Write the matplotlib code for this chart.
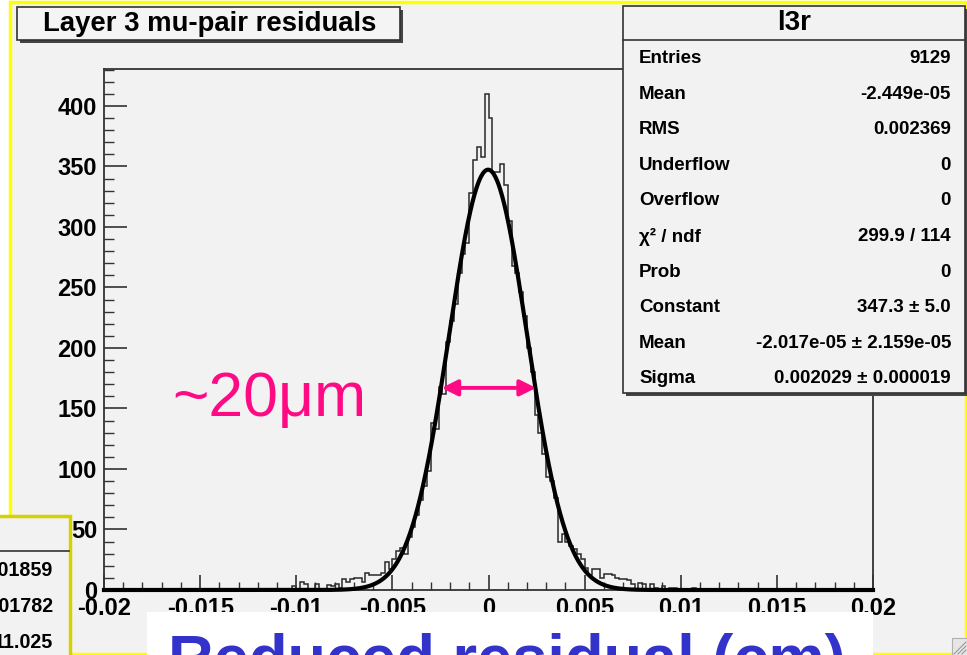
import matplotlib.pyplot as plt
from matplotlib.patches import Rectangle
from matplotlib.ticker import MultipleLocator
import numpy as np

plt.rcParams['font.family'] = ['Liberation Sans', 'DejaVu Sans']

W, H = 967, 655

# histogram: 200 bins over [-0.02, 0.02]; counts listed from bin 48 onwards, rest are empty
x_min, x_max, n_bins = -0.02, 0.02, 200
first_bin = 48
counts_listed = [
    1, 3, 0, 7, 5, 0, 1, 5, 1, 0,
    4, 3, 5, 2, 9, 7, 9, 10, 10, 7,
    14, 12, 12, 12, 14, 23, 17, 26, 32, 35,
    30, 44, 52, 62, 74, 86, 98, 138, 133, 168,
    162, 205, 222, 236, 262, 278, 287, 328, 355, 366,
    358, 410, 390, 345, 345, 352, 335, 305, 268, 262,
    246, 226, 200, 180, 145, 130, 112, 93, 90, 76,
    40, 46, 40, 36, 34, 30, 26, 18, 12, 17,
    17, 10, 13, 13, 12, 10, 9, 9, 8, 5,
    1, 6, 5, 1, 5, 2, 1, 3, 0, 2,
    2, 0, 1, 0, 1, 2, 0, 1, 0, 0, 1,
]

# gaussian fit parameters (from the stats box)
fit_const = 347.3
fit_mean = -2.017e-05
fit_sigma = 0.002029

x_ticks = [-0.02, -0.015, -0.01, -0.005, 0, 0.005, 0.01, 0.015, 0.02]
x_tick_labels = ['-0.02', '-0.015', '-0.01', '-0.005', '0', '0.005', '0.01', '0.015', '0.02']
y_ticks = [0, 50, 100, 150, 200, 250, 300, 350, 400]

title = 'Layer 3 mu-pair residuals'
stats_name = 'l3r'
stat_labels = ['Entries', 'Mean', 'RMS', 'Underflow', 'Overflow', 'χ² / ndf',
               'Prob', 'Constant', 'Mean', 'Sigma']
stat_values = ['9129', '-2.449e-05', '0.002369', '0', '0', '299.9 / 114',
               '0', '347.3 ± 5.0', '-2.017e-05 ± 2.159e-05', '0.002029 ± 0.000019']
side_values = ['0.01859', '0.001782', '11.025']
width_note = '~20μm'
caption = 'Reduced residual (cm)'

counts = np.zeros(n_bins)
counts[first_bin:first_bin + len(counts_listed)] = counts_listed
edges = np.linspace(x_min, x_max, n_bins + 1)

BG = '#f2f2f2'
DARK = '#333333'
PINK = '#ff0a84'

fig = plt.figure(figsize=(W / 100, H / 100), dpi=100)
fig.patch.set_facecolor('white')


def fx(x):
    return x / W


def fy(y):
    return 1 - y / H


def box(x0, y0, x1, y1, **kw):
    r = Rectangle((fx(x0), fy(y1)), (x1 - x0) / W, (y1 - y0) / H,
                  transform=fig.transFigure, **kw)
    fig.add_artist(r)
    return r


def hline(x0, x1, y, **kw):
    fig.add_artist(plt.Line2D([fx(x0), fx(x1)], [fy(y), fy(y)],
                              transform=fig.transFigure, **kw))


# canvas pad with yellow border
box(9.5, 1.5, 965.5, 654, facecolor=BG, edgecolor='#ffff00', lw=2.5, zorder=-2)

ax = fig.add_axes([fx(104), fy(590), 769 / W, (590 - 69) / H])
ax.set_facecolor('none')
ax.set_xlim(x_min, x_max)
ax.set_ylim(0, 430.5)

ax.stairs(counts, edges, color='#2a2a2a', lw=1.1, baseline=0)
xf = np.linspace(x_min, x_max, 1500)
yf = fit_const * np.exp(-0.5 * ((xf - fit_mean) / fit_sigma) ** 2)
ax.plot(xf, yf, color='black', lw=3, clip_on=False, zorder=3)

for s in ax.spines.values():
    s.set_color(DARK)
    s.set_linewidth(1.3)

ax.set_xticks(x_ticks)
ax.set_xticklabels(x_tick_labels)
ax.set_yticks(y_ticks)
ax.xaxis.set_minor_locator(MultipleLocator(0.001))
ax.yaxis.set_minor_locator(MultipleLocator(10))
ax.tick_params(axis='x', which='major', direction='in', length=11, width=1.2,
               top=False, labelsize=17, pad=5, color=DARK)
ax.tick_params(axis='x', which='minor', direction='in', length=5.5, width=1.0,
               top=False, color=DARK)
ax.tick_params(axis='y', which='major', direction='in', length=16.5, width=1.2,
               right=False, labelsize=17, pad=5, color=DARK)
ax.tick_params(axis='y', which='minor', direction='in', length=7.5, width=1.0,
               right=False, color=DARK)
for lab in ax.get_xticklabels() + ax.get_yticklabels():
    lab.set_fontweight('bold')

# width annotation
ax.annotate('', xy=(0.00247, 167), xytext=(-0.00244, 167),
            arrowprops=dict(arrowstyle='<|-|>', color=PINK, lw=2.8,
                            mutation_scale=24, shrinkA=0, shrinkB=0))
fig.text(fx(172), fy(416), width_note, color=PINK, fontsize=45,
         ha='left', va='baseline')

# title box
box(20, 10, 403, 43, facecolor='#444444', edgecolor='none', zorder=5)
box(17, 7, 400, 40, facecolor='#f4f4f4', edgecolor=DARK, lw=1.2, zorder=6)
fig.text(fx(210), fy(24), title, fontsize=19.8, fontweight='bold',
         ha='center', va='center', zorder=7)

# stats box
box(626, 9, 968, 396, facecolor='#444444', edgecolor='none', zorder=5)
box(623, 6, 965, 393, facecolor=BG, edgecolor=DARK, lw=1.2, zorder=6)
hline(623, 965, 40, color=DARK, lw=1.2, zorder=7)
fig.text(fx(794), fy(23), stats_name, fontsize=20, fontweight='bold',
         ha='center', va='center', zorder=7)
for i, (lab, val) in enumerate(zip(stat_labels, stat_values)):
    yy = 58.5 + i * 35.6
    fig.text(fx(639), fy(yy), lab, fontsize=13.5, fontweight='bold',
             ha='left', va='center', zorder=7)
    fig.text(fx(951), fy(yy), val, fontsize=13.5, fontweight='bold',
             ha='right', va='center', zorder=7)

# neighbouring stats box cut off at bottom-left
box(-5, 516, 70, 665, facecolor=BG, edgecolor='#d6d200', lw=2.5, zorder=6)
hline(0, 69, 551, color=DARK, lw=1.2, zorder=7)
for i, val in enumerate(side_values):
    fig.text(fx(53), fy(570 + i * 36.5), val, fontsize=14.2, fontweight='bold',
             ha='right', va='center', zorder=7)

# caption box
box(147, 612, 873, 665, facecolor='white', edgecolor='none', zorder=6)
fig.text(fx(168), fy(679), caption, color='#3333cc', fontsize=45.5,
         fontweight='bold', ha='left', va='baseline', zorder=7)

# resize grip
box(952, 638, 968, 656, facecolor='#e6e6e6', edgecolor='#b0b0b0', lw=0.8, zorder=8)
for d in (4, 8, 12):
    fig.add_artist(plt.Line2D([fx(966 - d), fx(966)], [fy(654), fy(654 - d)],
                              transform=fig.transFigure, color='#999999', lw=0.8, zorder=9))

fig.savefig('out.png', dpi=100)
